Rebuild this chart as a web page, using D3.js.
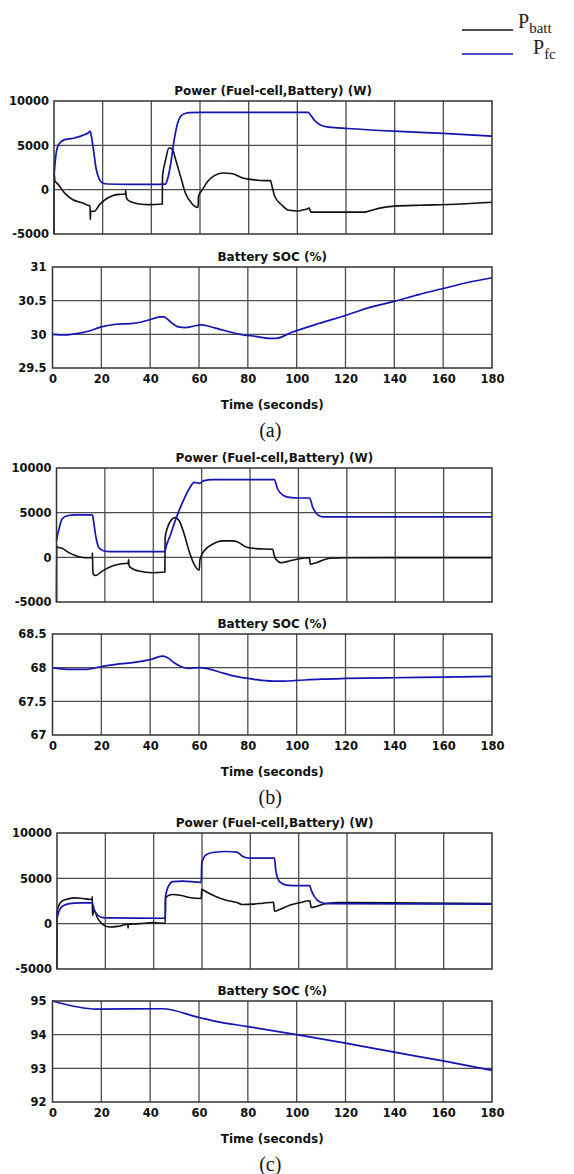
<!DOCTYPE html>
<meta charset="utf-8">
<head>
<style>
  body { margin: 0; background: #fff; }
  .grid { stroke: #4d4d4d; stroke-width: 1.3; }
  .frame { fill: none; stroke: #333; stroke-width: 1.5; }
  .tick text { font-family: "DejaVu Sans", sans-serif; font-weight: bold; font-size: 11.5px; fill: #111; }
  .title { font-family: "DejaVu Sans", sans-serif; font-weight: bold; font-size: 12px; fill: #111; }
  .cap { font-family: "Liberation Serif", serif; font-size: 20px; fill: #111; }
  .pbatt { fill: none; stroke: #111; stroke-width: 1.6; }
  .pfc { fill: none; stroke: #1414b4; stroke-width: 1.7; }
</style>
</head>
<body>
<script src="https://d3js.org/d3.v7.min.js"></script>
<script>
// tick labels
var timeTicks = [0, 20, 40, 60, 80, 100, 120, 140, 160, 180];
var powerTicks = [-5000, 0, 5000, 10000];
var socTicksA = [29.5, 30, 30.5, 31];
var socTicksB = [67, 67.5, 68, 68.5];
var socTicksC = [92, 93, 94, 95];

// (a) power, [time s, W]
var pfcA = [[0,1500],[0.5,3200],[1,4300],[1.6,4900],[2.5,5300],[4.4,5650],[6,5720],[8,5800],[10,5950],[12,6150],[14,6400],[14.9,6580],[15.5,5800],[16,4900],[17.4,2250],[18.7,1130],[20,750],[22,640],[30,600],[40,600],[45.8,620],[46.6,1130],[48,3000],[49.4,5640],[50.8,7500],[52.8,8460],[55.5,8700],[60,8720],[80,8720],[104.5,8720],[105.5,8400],[107,7830],[109.7,7270],[113,7050],[120.7,6900],[139.7,6600],[160,6340],[180,6040]];
var pbattA = [[0,-5000],[0.05,1900],[0.4,950],[1,800],[2.3,375],[3.5,-100],[5,-560],[7.8,-1130],[11.8,-1500],[14.6,-1800],[14.8,-1800],[14.9,-3380],[15.1,-2440],[16.6,-2440],[18.7,-1690],[21.4,-1050],[24,-680],[26.8,-530],[29.3,-490],[29.5,-100],[29.7,-800],[30.2,-1130],[32.2,-1430],[35,-1620],[39,-1690],[44.5,-1620],[44.6,1500],[45.9,3380],[47.2,4700],[48.6,4590],[50,3380],[52,1500],[54,-376],[56.7,-1580],[59.2,-2000],[59.4,-750],[61,0],[63.2,940],[65.9,1580],[69.3,1880],[73.4,1800],[77.5,1320],[81.6,1130],[87,1015],[89,1015],[89.5,500],[90.7,-750],[93.5,-1700],[96.2,-2300],[100.3,-2400],[102,-2300],[104.3,-2160],[104.8,-2050],[105.6,-2530],[127.4,-2530],[130.3,-2350],[134.4,-2050],[139.8,-1860],[150.8,-1750],[161.8,-1680],[180,-1420]];
var socA = [[0,30],[5,29.99],[10,30.01],[15,30.05],[20,30.11],[26,30.15],[32,30.16],[36,30.18],[40,30.22],[44,30.26],[45.5,30.26],[48.5,30.18],[51.5,30.11],[54.5,30.1],[57.5,30.12],[61,30.14],[64,30.12],[70,30.06],[77,30],[83,29.97],[89,29.94],[91.5,29.94],[98,30.03],[109,30.16],[120,30.28],[130,30.4],[140,30.49],[150,30.59],[160,30.68],[170,30.77],[180,30.84]];

// (b)
var pfcB = [[0,1840],[0.5,2600],[1,3150],[2.3,4280],[4.4,4650],[7.9,4760],[14.8,4760],[15.3,4090],[16.2,2400],[17.5,1090],[19.6,710],[22,640],[44.8,640],[45.2,1090],[47.2,2590],[49.3,4280],[52.1,6150],[54.8,7650],[56.9,8400],[59,8290],[61,8590],[64.5,8700],[90,8700],[91.4,7650],[93.5,6980],[96.3,6710],[100.4,6640],[104.6,6640],[105.9,5590],[108,4760],[110,4540],[180,4540]];
var pbattB = [[0,-5000],[0.05,1300],[0.3,1160],[2.3,1010],[5.1,525],[9.3,75],[12,-40],[14.8,-40],[14.85,500],[15,-1300],[15.2,-1910],[16.2,-2030],[18.9,-1540],[23.1,-975],[27.2,-710],[29.6,-675],[29.8,-250],[30,-900],[30.7,-1160],[34.1,-1540],[39.6,-1725],[44.8,-1650],[44.9,2210],[45.9,3340],[47.2,4090],[49,4460],[50.7,4090],[52.8,2590],[54.8,710],[56.9,-790],[59,-1430],[59.3,-250],[61,710],[64.5,1460],[68.6,1840],[72.8,1840],[74.9,1730],[78.3,1160],[82.5,975],[89.4,900],[89.8,400],[90.7,-225],[92.8,-600],[96.3,-410],[100.4,-150],[104.6,-40],[104.9,-790],[107.4,-600],[113,-110],[120,-40],[180,-30]];
var socB = [[0,68],[6,67.975],[14,67.975],[19,68.01],[26,68.05],[32,68.07],[40,68.12],[45,68.17],[47,68.15],[50,68.07],[53,68.01],[56,67.99],[60,68],[63,67.99],[68,67.94],[75,67.87],[82,67.83],[90,67.8],[95,67.8],[100,67.81],[110,67.83],[120,67.84],[140,67.85],[160,67.86],[180,67.87]];

// (c)
var pfcC = [[0,550],[0.5,1100],[1,1480],[2.3,1930],[5.1,2220],[9.3,2300],[14.5,2300],[15.5,1480],[16.9,930],[18.9,670],[21.7,630],[44.8,600],[44.9,2960],[45.9,4000],[47.9,4630],[52.1,4700],[57.6,4590],[59.7,4560],[59.9,6670],[61.7,7600],[64.5,7850],[70,7960],[74.4,7890],[76.9,7400],[79.7,7220],[90,7220],[90.5,5930],[92.1,4630],[94.9,4260],[100.4,4190],[104.6,4190],[105.2,3700],[106.6,2960],[108.6,2410],[111.4,2220],[180,2150]];
var pbattC = [[0,-5000],[0.05,1300],[0.3,1670],[1.7,2410],[3.7,2670],[7.2,2850],[10.6,2780],[14.5,2670],[14.6,3000],[14.7,900],[15.2,1500],[16.9,560],[18.9,-70],[21.7,-370],[25.1,-300],[29.3,-70],[29.4,-500],[29.5,-70],[34.1,0],[39.6,110],[44.8,40],[44.9,2780],[45.9,3070],[47.9,3220],[51.4,3110],[54.8,2890],[59.7,2780],[59.9,3780],[61.7,3520],[65.9,2960],[70,2590],[74.4,2330],[76.9,2110],[81.1,2150],[85.2,2260],[89.6,2370],[90,1370],[92.1,1560],[96.3,2040],[100.4,2300],[104.6,2520],[105.2,1780],[107.6,1930],[111.4,2220],[116.9,2330],[180,2220]];
var socC = [[0,95],[18,94.76],[45,94.77],[60,94.51],[68,94.38],[80,94.24],[100,94],[120,93.75],[140,93.48],[160,93.22],[180,92.94]];

var svg = d3.select("body").append("svg")
    .attr("width", 574)
    .attr("height", 1174);

// panel layout
var panels = [
    { title: "Power (Fuel-cell,Battery) (W)", left: 54, top: 101, bottom: 234, ticks: powerTicks, lines: [pbattA, pfcA] },
    { title: "Battery SOC (%)", left: 52.5, top: 267, bottom: 368, ticks: socTicksA, lines: [socA], xaxis: true, cap: "(a)" },
    { title: "Power (Fuel-cell,Battery) (W)", left: 56.5, top: 468, bottom: 602, ticks: powerTicks, lines: [pbattB, pfcB] },
    { title: "Battery SOC (%)", left: 52.5, top: 634, bottom: 735, ticks: socTicksB, lines: [socB], xaxis: true, cap: "(b)" },
    { title: "Power (Fuel-cell,Battery) (W)", left: 57, top: 833, bottom: 969, ticks: powerTicks, lines: [pbattC, pfcC] },
    { title: "Battery SOC (%)", left: 52.5, top: 1001, bottom: 1102, ticks: socTicksC, lines: [socC], xaxis: true, cap: "(c)" }
];
var right = 492;

panels.forEach(function (p) {
    var x = d3.scaleLinear().domain([0, 180]).range([p.left, right]);
    var y = d3.scaleLinear().domain([p.ticks[0], p.ticks[p.ticks.length - 1]]).range([p.bottom, p.top]);
    var g = svg.append("g");

    // grid
    g.selectAll(".vg").data(timeTicks.slice(1, -1)).enter().append("line")
        .attr("class", "grid")
        .attr("x1", function (d) { return x(d); }).attr("x2", function (d) { return x(d); })
        .attr("y1", p.top).attr("y2", p.bottom);
    g.selectAll(".hg").data(p.ticks.slice(1, -1)).enter().append("line")
        .attr("class", "grid")
        .attr("x1", p.left).attr("x2", right)
        .attr("y1", function (d) { return y(d); }).attr("y2", function (d) { return y(d); });

    // y axis labels
    var ya = g.append("g")
        .attr("transform", "translate(" + p.left + ",0)")
        .call(d3.axisLeft(y).tickValues(p.ticks).tickSize(0).tickPadding(p.lines.length > 1 ? 5 : 6)
            .tickFormat(function (d) { return String(d); }));
    ya.select(".domain").remove();

    if (p.xaxis) {
        var xa = g.append("g")
            .attr("transform", "translate(0," + p.bottom + ")")
            .call(d3.axisBottom(x).tickValues(timeTicks).tickSize(0).tickPadding(7)
                .tickFormat(function (d) { return String(d); }));
        xa.select(".domain").remove();
        g.append("text").attr("class", "title")
            .attr("x", (p.left + right) / 2).attr("y", p.bottom + 41)
            .attr("text-anchor", "middle").text("Time (seconds)");
        g.append("text").attr("class", "cap")
            .attr("x", (p.left + right) / 2 - 2).attr("y", p.bottom + 69)
            .attr("text-anchor", "middle").text(p.cap);
    }

    g.append("text").attr("class", "title")
        .attr("x", (p.left + right) / 2).attr("y", p.top - 6)
        .attr("text-anchor", "middle").text(p.title);

    // series
    var line = d3.line()
        .x(function (d) { return x(d[0]); })
        .y(function (d) { return y(d[1]); })
        .curve(d3.curveMonotoneX);
    p.lines.forEach(function (s, i) {
        g.append("path").datum(s)
            .attr("class", (p.lines.length > 1 && i == 0) ? "pbatt" : "pfc")
            .attr("d", line);
    });

    g.append("rect").attr("class", "frame")
        .attr("x", p.left).attr("y", p.top)
        .attr("width", right - p.left).attr("height", p.bottom - p.top);
});

// legend
var leg = svg.append("g");
leg.append("line").attr("class", "pbatt").attr("x1", 462).attr("x2", 513).attr("y1", 30).attr("y2", 30);
leg.append("line").attr("class", "pfc").attr("x1", 462).attr("x2", 513).attr("y1", 54).attr("y2", 54);
var t1 = leg.append("text").attr("x", 518).attr("y", 28)
    .style("font-family", "Liberation Serif, serif").style("font-size", "20px").style("fill", "#222");
t1.append("tspan").text("P");
t1.append("tspan").attr("dy", 5).style("font-size", "15px").text("batt");
var t2 = leg.append("text").attr("x", 533).attr("y", 54)
    .style("font-family", "Liberation Serif, serif").style("font-size", "20px").style("fill", "#222");
t2.append("tspan").text("P");
t2.append("tspan").attr("dy", 5).style("font-size", "15px").text("fc");
</script>
</body>
